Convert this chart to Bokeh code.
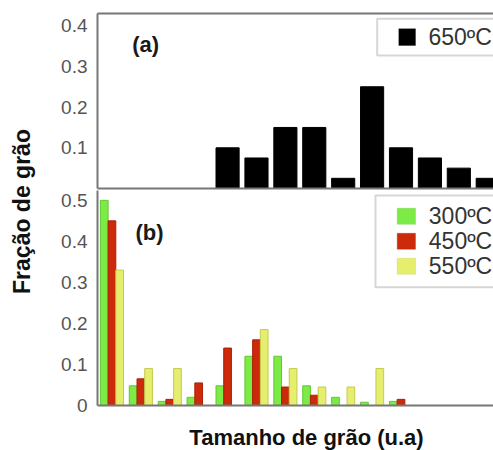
from bokeh.plotting import figure
from bokeh.models import (Range1d, LinearAxis, FixedTicker, BoxAnnotation, Label,
                          ColumnDataSource)
from bokeh.layouts import column, row
from bokeh.transform import dodge
from bokeh.embed import file_html
from bokeh.resources import INLINE

# ---------------- data ----------------
top_positions = [4, 5, 6, 7, 8, 9, 10, 11, 12, 13]
frac_650 = [0.10, 0.075, 0.15, 0.15, 0.025, 0.25, 0.10, 0.075, 0.05, 0.025]

bottom_positions = [0, 1, 2, 3, 4, 5, 6, 7, 8, 9, 10]
frac_300 = [0.50, 0.048, 0.010, 0.020, 0.048, 0.12, 0.12, 0.048, 0.020, 0.008, 0.010]
frac_450 = [0.45, 0.065, 0.015, 0.055, 0.140, 0.16, 0.045, 0.025, 0.0, 0.0, 0.015]
frac_550 = [0.33, 0.090, 0.090, 0.0, 0.0, 0.185, 0.090, 0.045, 0.045, 0.090, 0.0]

top_ticks = [0.1, 0.2, 0.3, 0.4]
bottom_ticks = [0, 0.1, 0.2, 0.3, 0.4, 0.5]
label_650 = "650ºC"
labels_bottom = ["300ºC", "450ºC", "550ºC"]
y_title = "Fração de grão"
x_title = "Tamanho de grão (u.a)"

# ---------------- style ----------------
AX = "#777777"
FONT = "Liberation Sans"
TICK_COL = "#555555"
C650 = "#000000"
C300, L300 = "#7CEB45", "#62C832"
C450, L450 = "#CC2A0A", "#A82208"
C550, L550 = "#E6EE6E", "#C4CA4E"

x_range = Range1d(-0.5, 13.2)


def base_fig(height, ymax, mb_top, mb_bottom):
    p = figure(width=445, height=height, x_range=x_range, y_range=Range1d(0, ymax),
               output_backend="svg", toolbar_location=None,
               min_border_left=49, min_border_right=0,
               min_border_top=mb_top, min_border_bottom=mb_bottom)
    p.outline_line_color = None
    p.xgrid.visible = False
    p.ygrid.visible = False
    p.background_fill_color = "white"
    p.border_fill_color = "white"
    return p


def line_only(ax):
    ax.ticker = FixedTicker(ticks=[])
    ax.major_tick_line_color = None
    ax.minor_tick_line_color = None
    ax.major_tick_out = 0
    ax.major_tick_in = 0
    ax.minor_tick_out = 0
    ax.minor_tick_in = 0
    ax.major_label_text_font_size = "0px"
    ax.major_label_standoff = 0
    ax.axis_line_color = AX
    ax.axis_line_width = 2


def style_y(ax, ticks):
    ax.ticker = FixedTicker(ticks=ticks)
    ax.major_tick_line_color = None
    ax.minor_tick_line_color = None
    ax.major_tick_out = 0
    ax.major_tick_in = 0
    ax.minor_tick_out = 0
    ax.major_label_standoff = 10
    ax.major_label_text_font = FONT
    ax.major_label_text_font_size = "19px"
    ax.major_label_text_color = TICK_COL
    ax.axis_line_color = AX
    ax.axis_line_width = 2


def sbox(p, left, right, top, bottom, **kw):
    p.add_layout(BoxAnnotation(left=left, right=right, top=top, bottom=bottom,
                               left_units="screen", right_units="screen",
                               top_units="screen", bottom_units="screen", **kw))


def legend_text(p, x, y, text):
    p.add_layout(Label(x=x, y=y, x_units="screen", y_units="screen", text=text,
                       text_font=FONT, text_font_size="23px", text_color="#333333",
                       text_baseline="middle", text_align="left"))


# ---------------- top panel (a) ----------------
top = base_fig(190, 0.43, 13, 2)
style_y(top.yaxis[0], top_ticks)
line_only(top.xaxis[0])
above = LinearAxis()
line_only(above)
top.add_layout(above, "above")

top.vbar(x=top_positions, top=frac_650, width=0.8, bottom=0,
         fill_color=C650, line_color=C650, line_width=1)

# legend (a)
sbox(top, 279.7, 440, 169.7, 133, fill_color="white", fill_alpha=0,
     line_color=AX, line_width=2)
sbox(top, 301.3, 318, 159.7, 143, fill_color=C650, fill_alpha=1, line_color=C650)
legend_text(top, 331, 151.3, label_650)

top.add_layout(Label(x=34.7, y=144, x_units="screen", y_units="screen", text="(a)",
                     text_font=FONT, text_font_size="22px", text_font_style="bold",
                     text_color="#1a1a1a", text_baseline="middle", text_align="left"))

# ---------------- bottom panel (b) ----------------
bot = base_fig(227, 0.524, 0, 12)
style_y(bot.yaxis[0], bottom_ticks)
line_only(bot.xaxis[0])

src = ColumnDataSource(dict(x=bottom_positions, a=frac_300, b=frac_450, c=frac_550))
w = 0.8 / 3
bot.vbar(x=dodge("x", -w, range=x_range), top="a", width=w, source=src,
         fill_color=C300, line_color=L300, line_width=1)
bot.vbar(x=dodge("x", 0, range=x_range), top="b", width=w, source=src,
         fill_color=C450, line_color=L450, line_width=1)
bot.vbar(x=dodge("x", w, range=x_range), top="c", width=w, source=src,
         fill_color=C550, line_color=L550, line_width=1)

# legend (b)
sbox(bot, 278, 440, 210, 118.3, fill_color="white", fill_alpha=0,
     line_color=AX, line_width=2)
row_y = [189.2, 164.2, 139.2]
row_fill = [C300, C450, C550]
row_line = [L300, L450, L550]
for yy, fc, lc, txt in zip(row_y, row_fill, row_line, labels_bottom):
    sbox(bot, 299.7, 318, yy + 8, yy - 8, fill_color=fc, fill_alpha=1, line_color=lc)
    legend_text(bot, 331.3, yy, txt)

bot.add_layout(Label(x=38, y=173, x_units="screen", y_units="screen", text="(b)",
                     text_font=FONT, text_font_size="22px", text_font_style="bold",
                     text_color="#1a1a1a", text_baseline="middle", text_align="left"))


# ---------------- axis titles ----------------
def title_fig(width, height):
    p = figure(width=width, height=height, x_range=Range1d(0, 1), y_range=Range1d(0, 1),
               output_backend="svg", toolbar_location=None, min_border=0,
               x_axis_type=None, y_axis_type=None)
    p.outline_line_color = None
    p.xgrid.visible = False
    p.ygrid.visible = False
    return p


yt = title_fig(48, 417)
yt.add_layout(Label(x=21, y=206, x_units="screen", y_units="screen", text=y_title,
                    angle=90, angle_units="deg", text_font=FONT, text_font_size="23px",
                    text_font_style="bold", text_color="#111111",
                    text_align="center", text_baseline="middle"))

xt = title_fig(493, 33)
xt.add_layout(Label(x=306, y=13, x_units="screen", y_units="screen", text=x_title,
                    text_font=FONT, text_font_size="22px", text_font_style="bold",
                    text_color="#111111", text_align="center", text_baseline="middle"))

layout = column(row(yt, column(top, bot, spacing=0), spacing=0), xt, spacing=0)

open("out.html", "w").write(file_html(layout, INLINE))
